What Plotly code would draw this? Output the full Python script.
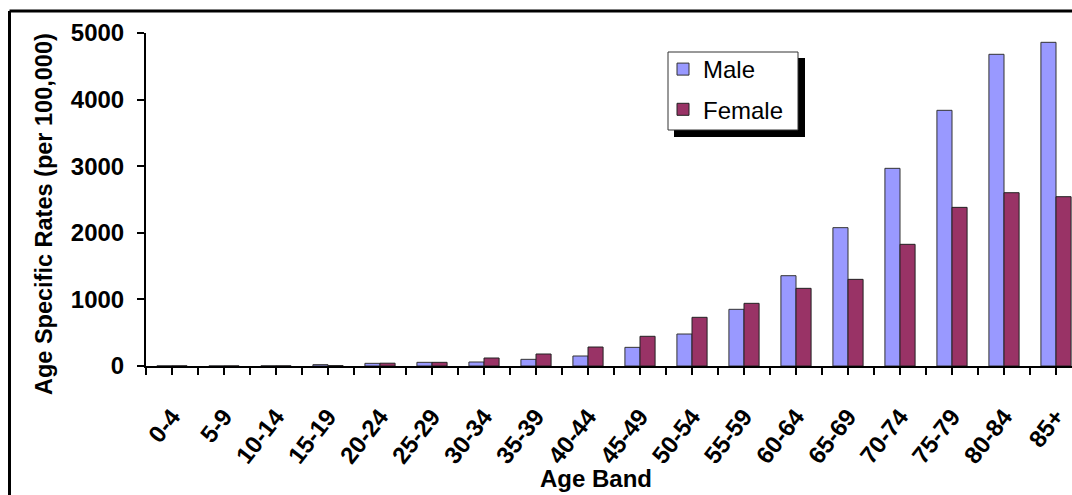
import plotly.graph_objects as go

# Age bands and age-specific rates per 100,000
age_bands = ["0-4", "5-9", "10-14", "15-19", "20-24", "25-29", "30-34", "35-39",
             "40-44", "45-49", "50-54", "55-59", "60-64", "65-69", "70-74",
             "75-79", "80-84", "85+"]
male_rates = [2, 1, 3, 20, 40, 55, 60, 100, 150, 280, 480, 851, 1356, 2077,
              2968, 3839, 4680, 4860]
female_rates = [2, 1, 2, 6, 42, 55, 120, 180, 285, 446, 731, 941, 1166, 1301,
                1827, 2382, 2602, 2542]
y_ticks = [0, 1000, 2000, 3000, 4000, 5000]

MALE_COLOR = "#9999FF"
FEMALE_COLOR = "#993366"
FONT = "Liberation Sans, Arial, sans-serif"

W, H = 1072, 495
L, R, T, B = 146, 0, 33, 129
plot_w = W - L - R
plot_h = H - T - B
cat_px = 52.0  # width of one age band in pixels


def px_x(px):
    return (px - L) / plot_w


def px_y(py):
    return (H - B - py) / plot_h


xpos = list(range(len(age_bands)))

fig = go.Figure()
fig.add_trace(go.Bar(
    x=xpos, y=male_rates, name="Male", legendgroup="m",
    marker=dict(color=MALE_COLOR, line=dict(color="#333333", width=1)),
))
fig.add_trace(go.Bar(
    x=xpos, y=female_rates, name="Female", legendgroup="f",
    marker=dict(color=FEMALE_COLOR, line=dict(color="#222222", width=1)),
))

x_max = -0.5 + plot_w / cat_px

shapes = [
    # outer frame (top and left edges)
    dict(type="line", xref="paper", yref="paper",
         x0=px_x(9.5), x1=px_x(W + 5), y0=px_y(11), y1=px_y(11),
         line=dict(color="black", width=3)),
    dict(type="line", xref="paper", yref="paper",
         x0=px_x(9.5), x1=px_x(9.5), y0=px_y(11), y1=px_y(H + 5),
         line=dict(color="black", width=3)),
    # legend shadow and box
    dict(type="rect", xref="paper", yref="paper",
         x0=px_x(674), x1=px_x(805), y0=px_y(58), y1=px_y(137),
         fillcolor="black", line=dict(width=0), layer="above"),
    dict(type="rect", xref="paper", yref="paper",
         x0=px_x(668), x1=px_x(798), y0=px_y(52), y1=px_y(130),
         fillcolor="white", line=dict(color="#333333", width=1), layer="above"),
]

annotations = [
    dict(text="<b>Age Specific Rates (per 100,000)</b>", xref="paper", yref="paper",
         x=px_x(44), y=px_y(214), textangle=-90, showarrow=False,
         font=dict(family=FONT, size=23.5, color="black"),
         xanchor="center", yanchor="middle"),
    dict(text="<b>Age Band</b>", xref="paper", yref="paper",
         x=px_x(596), y=px_y(478), showarrow=False,
         font=dict(family=FONT, size=24, color="black"),
         xanchor="center", yanchor="middle"),
]

fig.update_layout(
    width=W, height=H,
    margin=dict(l=L, r=R, t=T, b=B, pad=0),
    paper_bgcolor="white", plot_bgcolor="white",
    barmode="group", bargap=0.42, bargroupgap=0,
    font=dict(family=FONT, color="black"),
    shapes=shapes,
    annotations=annotations,
    legend=dict(
        x=px_x(663), y=px_y(47), xanchor="left", yanchor="top",
        bgcolor="rgba(0,0,0,0)", borderwidth=0,
        font=dict(family=FONT, size=24, color="black"),
        traceorder="grouped", tracegroupgap=6,
    ),
    showlegend=True,
)

fig.update_xaxes(
    range=[-0.5, x_max],
    tickmode="array", tickvals=xpos, ticktext=[f"<b>{a}</b>" for a in age_bands],
    tickangle=-52, tickfont=dict(family=FONT, size=24, color="black"),
    ticklabelstandoff=18,
    ticks="outside", ticklen=7, tickwidth=2, tickcolor="black",
    minor=dict(tickmode="array", tickvals=[i - 0.5 for i in range(len(age_bands) + 1)],
               ticks="outside", ticklen=7, tickwidth=2, tickcolor="black"),
    showline=True, linecolor="black", linewidth=2,
    showgrid=False, zeroline=False,
)

fig.update_yaxes(
    range=[0, 5000],
    tickmode="array", tickvals=y_ticks, ticktext=[f"<b>{v}</b>" for v in y_ticks],
    tickfont=dict(family=FONT, size=24, color="black"),
    ticklabelstandoff=8,
    ticks="outside", ticklen=7, tickwidth=2, tickcolor="black",
    showline=True, linecolor="black", linewidth=2,
    showgrid=False, zeroline=False,
)

fig.write_html("out.html")
